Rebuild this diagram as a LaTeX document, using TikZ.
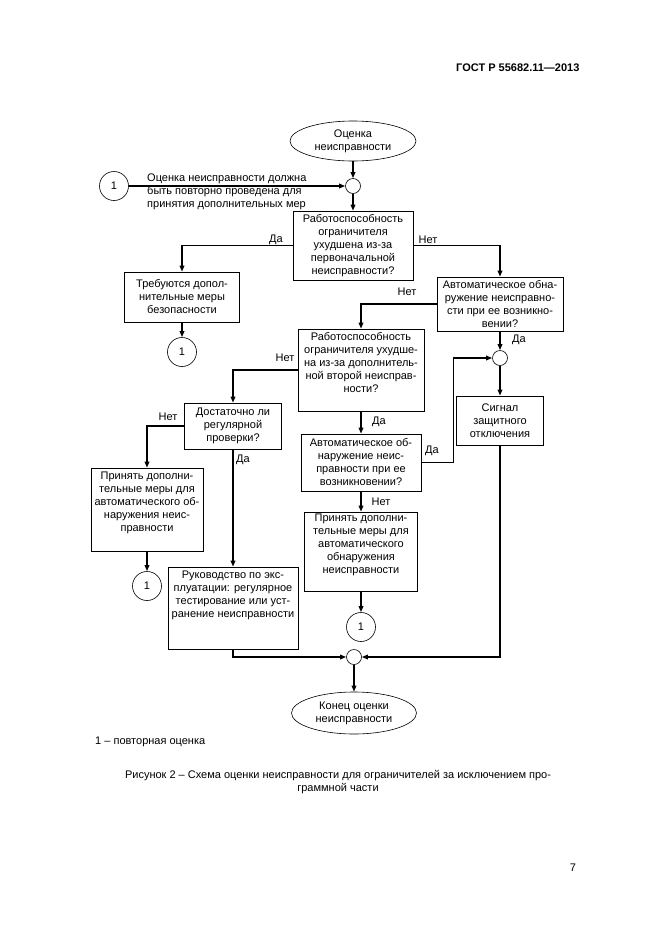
\documentclass[tikz,border=0pt]{standalone}
\usepackage{fontspec}
\setmainfont{Liberation Sans}
\usetikzlibrary{arrows.meta,shapes.geometric}
\begin{document}
\begin{tikzpicture}[x=1pt,y=-1pt,
	txt/.style={font=\fontsize{11}{13}\selectfont},
	blok/.style={txt,draw,line width=0.6pt,align=center,inner sep=0pt},
	oval/.style={txt,draw,ellipse,line width=0.6pt,align=center,inner sep=0pt},
	uzel/.style={draw,circle,line width=0.6pt,minimum size=15pt,inner sep=0pt},
	povtor/.style={txt,draw,circle,line width=0.6pt,minimum size=29pt,inner sep=0pt},
	svyaz/.style={line width=1.6pt,-{Triangle[length=6pt,width=4.5pt]}}]
	\useasboundingbox[fill=white] (0,0) rectangle (661,935);
	
	% Шапка страницы
	\node[font=\fontsize{11}{13}\selectfont\bfseries, anchor=east] (shapka) at (583,68) {ГОСТ Р 55682.11—2013};
	
	% Начало и первое решение
	\node[oval, minimum width=126pt, minimum height=40pt] (nachalo) at (353,141) {Оценка\\неисправности};
	\node[uzel] (u1) at (353,186) {};
	\node[povtor] (p0) at (114,186) {1};
	\node[txt, align=left, anchor=west, inner sep=0pt] (poyasn) at (147,192) {Оценка неисправности должна\\быть повторно проведена для\\принятия дополнительных мер};
	\node[blok, minimum width=120pt, minimum height=69pt] (rab1) at (353,245.5) {Работоспособность\\ограничителя\\ухудшена из-за\\первоначальной\\неисправности?};
	
	% Левая ветвь
	\node[blok, minimum width=115pt, minimum height=50pt] (trebu) at (182,297) {Требуются допол-\\нительные меры\\безопасности};
	\node[povtor] (p1) at (182,352) {1};
	
	% Правая ветвь
	\node[blok, minimum width=126pt, minimum height=54pt] (avto1) at (500,304) {Автоматическое обна-\\ружение неисправно-\\сти при ее возникно-\\вении?};
	\node[uzel] (u2) at (500,358) {};
	\node[blok, minimum width=87pt, minimum height=49pt] (signal) at (500,420.5) {Сигнал\\защитного\\отключения};
	
	% Вторая неисправность
	\node[blok, minimum width=126pt, minimum height=82pt] (rab2) at (361,370) {Работоспособность\\ограничителя ухудше-\\на из-за дополнитель-\\ной второй неисправ-\\ности?\\[2pt]\mbox{}};
	\node[blok, minimum width=97pt, minimum height=46pt] (dost) at (233,426) {Достаточно ли\\регулярной\\проверки?};
	\node[blok, minimum width=112pt, minimum height=83pt] (prin1) at (147,509.5) {Принять дополни-\\тельные меры для\\автоматического об-\\наружения неис-\\правности\\[2pt]\mbox{}};
	\node[povtor] (p2) at (147,586) {1};
	\node[blok, minimum width=130pt, minimum height=82pt] (ruk) at (233,608) {Руководство по экс-\\плуатации: регулярное\\тестирование или уст-\\ранение неисправности\\[14pt]\mbox{}};
	\node[blok, minimum width=120pt, minimum height=57pt] (avto2) at (361,462.5) {Автоматическое об-\\наружение неис-\\правности при ее\\возникновении?};
	\node[blok, minimum width=113pt, minimum height=79pt] (prin2) at (361,551.5) {Принять дополни-\\тельные меры для\\автоматического\\обнаружения\\неисправности\\[2pt]\mbox{}};
	\node[povtor] (p3) at (361,627) {1};
	
	% Конец
	\node[uzel] (u3) at (354,657) {};
	\node[oval, minimum width=125pt, minimum height=42pt] (konec) at (354,713) {Конец оценки\\неисправности};
	
	% Связи
	\draw[svyaz] (nachalo) -- (u1);
	\draw[svyaz] (p0) -- (u1);
	\draw[svyaz] (u1) -- (rab1);
	\draw[svyaz] (rab1.west) -| (trebu.north);
	\draw[svyaz] (rab1.east) -| (avto1.north);
	\draw[svyaz] (trebu) -- (p1);
	\draw[svyaz] (avto1.west) -| (rab2.north);
	\draw[svyaz] (avto1) -- (u2);
	\draw[svyaz] (u2) -- (signal);
	\draw[svyaz] (rab2.west) -| (dost.north);
	\draw[svyaz] (dost.west) -| (prin1.north);
	\draw[svyaz] (prin1) -- (p2);
	\draw[svyaz] (dost) -- (ruk);
	\draw[svyaz] (rab2) -- (avto2);
	\draw[svyaz] (avto2.east) -- ++(32,0) |- (u2.west);
	\draw[svyaz] (avto2) -- (prin2);
	\draw[svyaz] (prin2) -- (p3);
	\draw[svyaz] (ruk.south) |- (u3.west);
	\draw[svyaz] (signal.south) |- (u3.east);
	\draw[svyaz] (u3) -- (konec);
	
	% Метки Да / Нет
	\node[txt] (da1) at (276,240) {Да};
	\node[txt] (net1) at (428,240) {Нет};
	\node[txt] (net2) at (407,292) {Нет};
	\node[txt] (da2) at (519,340) {Да};
	\node[txt] (net3) at (285,358) {Нет};
	\node[txt] (net4) at (168,417) {Нет};
	\node[txt] (da3) at (243,460) {Да};
	\node[txt] (da4) at (379,422) {Да};
	\node[txt] (da5) at (432,451) {Да};
	\node[txt] (net5) at (381,502) {Нет};
	
	% Подписи
	\node[txt, anchor=west, inner sep=0pt] (snoska) at (95,742) {1 – повторная оценка};
	\node[txt, align=center] (podpis) at (338,782.5) {Рисунок 2 – Схема оценки неисправности для ограничителей за исключением про-\\граммной части};
	\node[txt] (stranica) at (573,868) {7};
\end{tikzpicture}
\end{document}
